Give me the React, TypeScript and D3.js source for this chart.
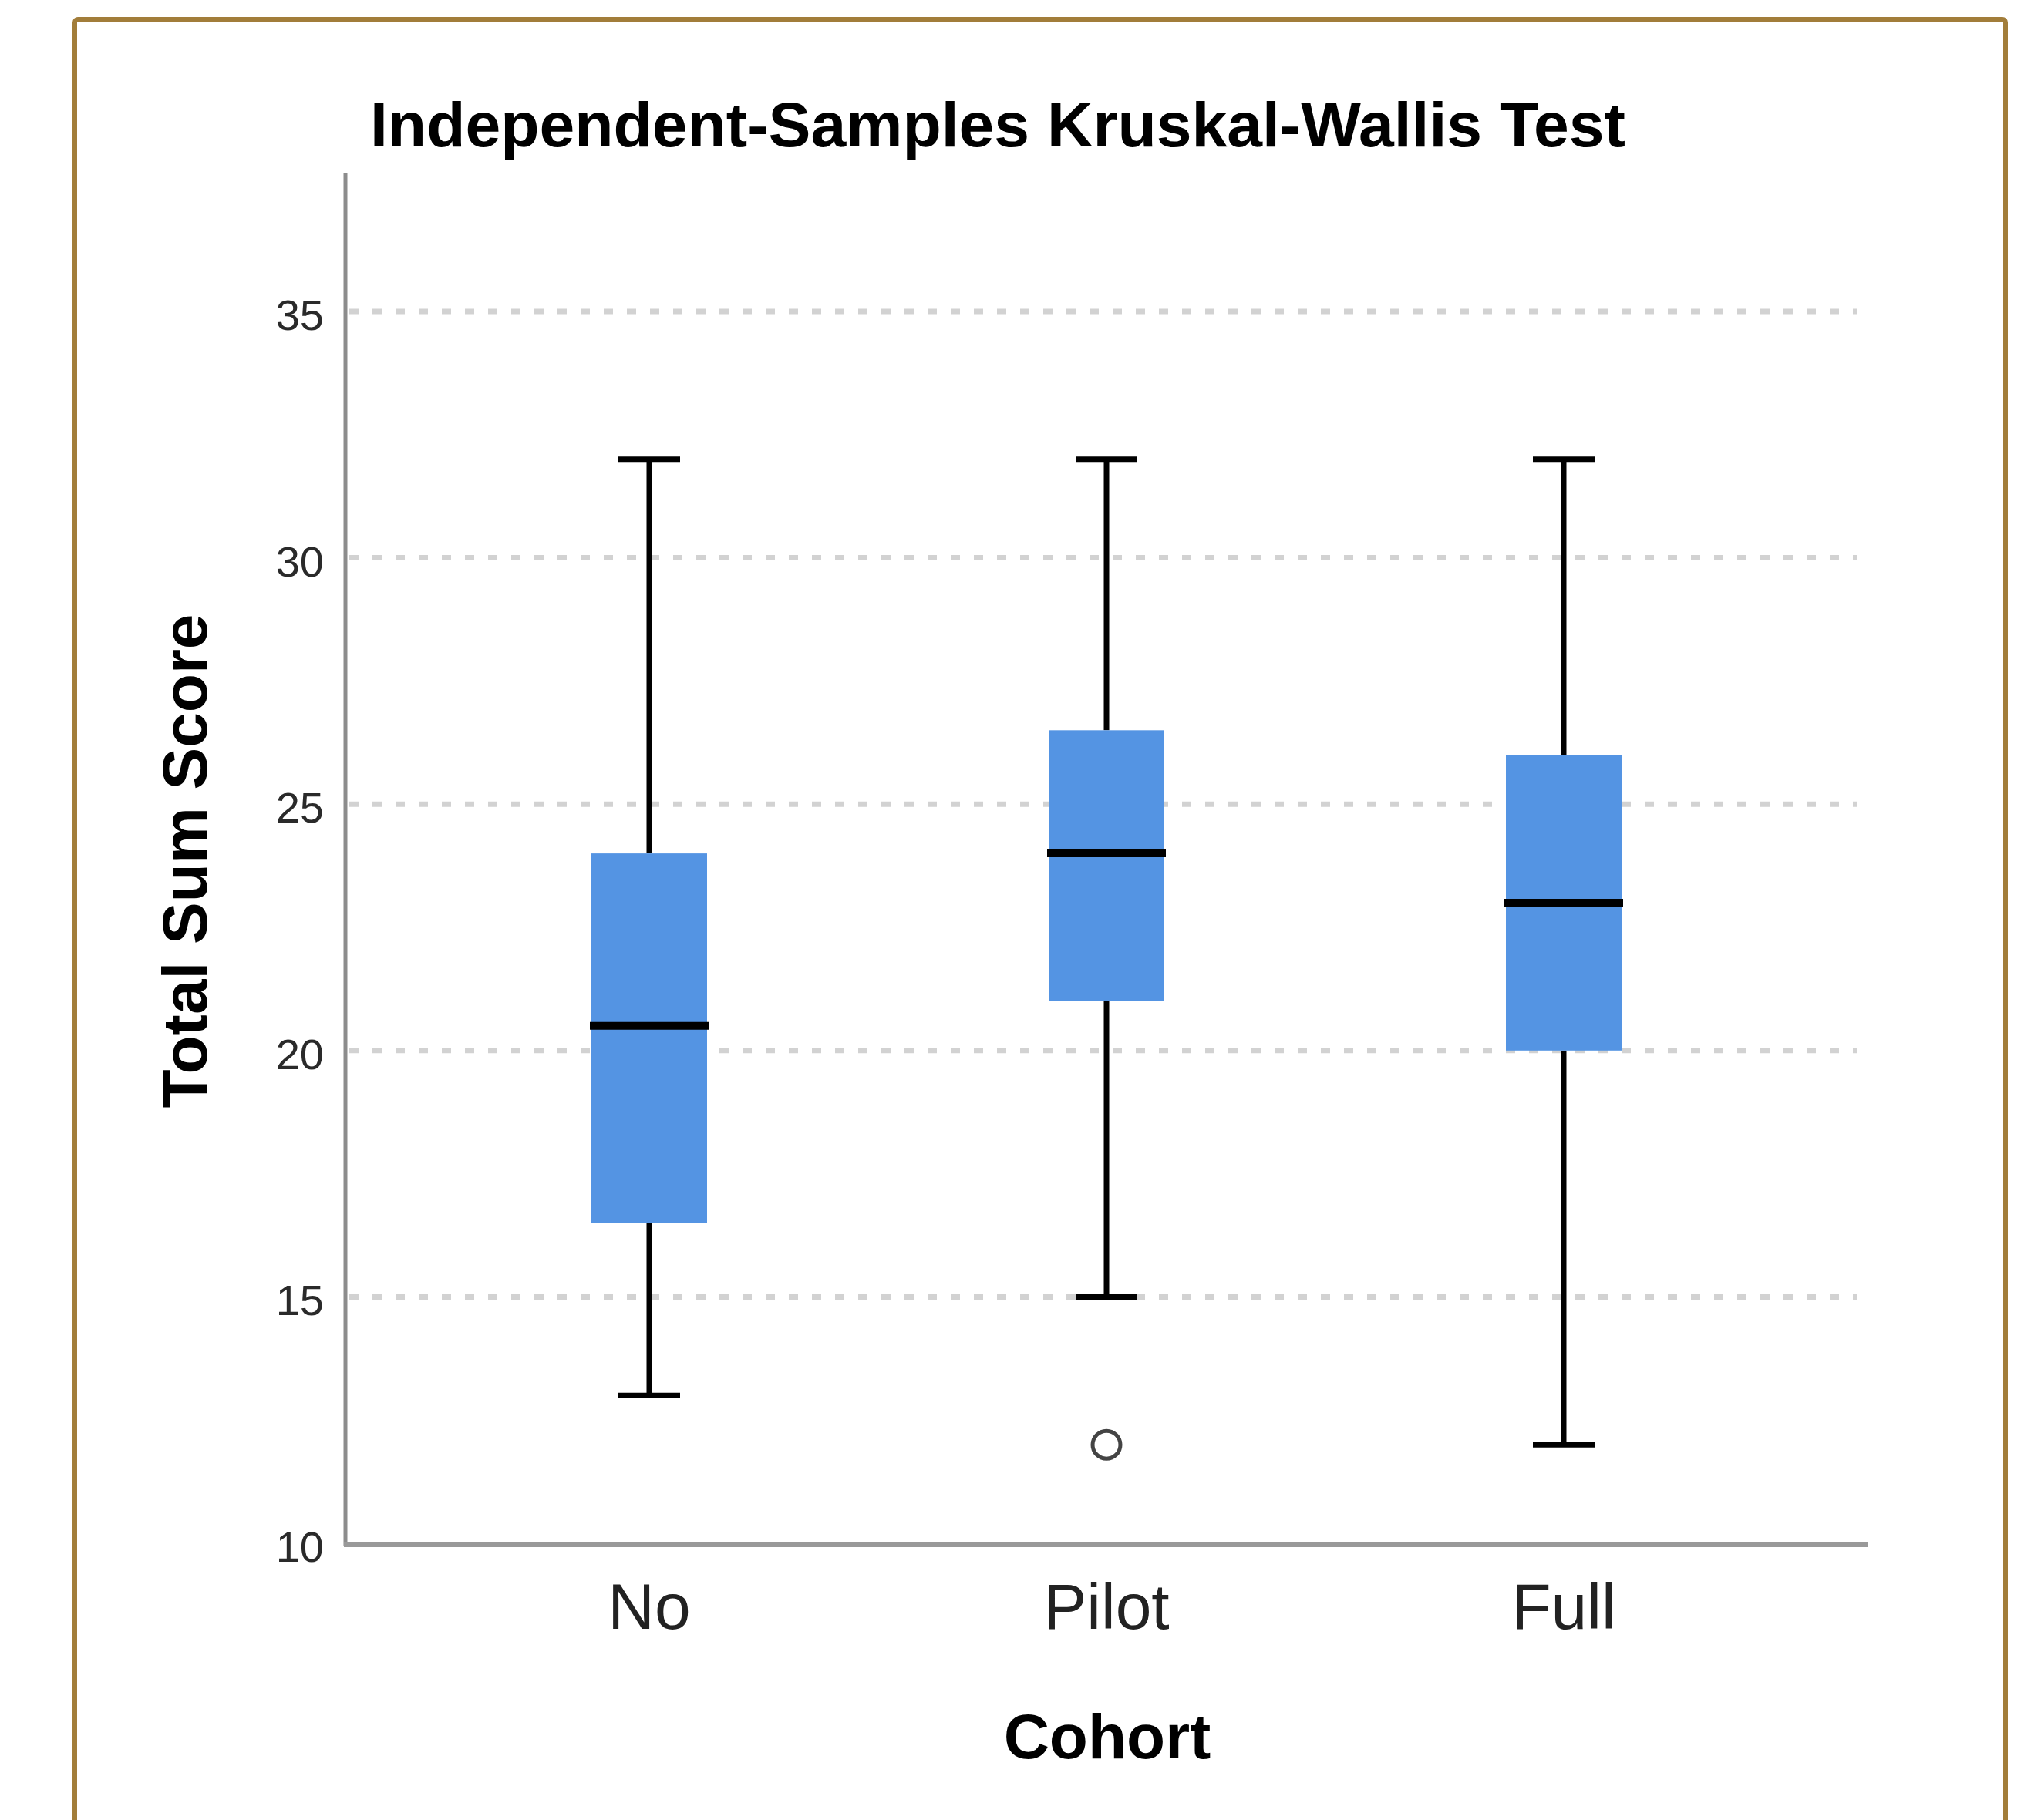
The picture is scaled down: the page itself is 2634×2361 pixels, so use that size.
import React from "react";
import * as d3 from "d3";

const cohorts = ["No", "Pilot", "Full"];
const whiskerLow = [13, 15, 12];
const q1 = [16.5, 21, 20];
const median = [20.5, 24, 23];
const q3 = [24, 26.5, 26];
const whiskerHigh = [32, 32, 32];
const outliers = [{ cohort: "Pilot", value: 12 }];
const yTicks = [10, 15, 20, 25, 30, 35];

const W = 2634;
const H = 2361;
const FONT = "'Liberation Sans', Arial, sans-serif";

export default function App() {
  // plot frame
  const left = 448;
  const right = 2422;
  const top = 225;
  const bottom = 2004;

  const y = d3.scaleLinear().domain([10, 35]).range([2002, 404]);
  const x = d3.scalePoint().domain(cohorts).range([842, 2028]);

  const boxW = 150;
  const capW = 80;

  return (
    <svg
      width={W}
      height={H}
      style={{ position: "absolute", left: 0, top: 0, display: "block", background: "#fff" }}
    >
      {/* frame around the chart */}
      <rect x={97} y={25} width={2504} height={2450} rx={4} fill="#fff" stroke="#a27d3a" strokeWidth={6} />

      <text
        x={480}
        y={190}
        fontFamily={FONT}
        fontWeight="bold"
        fontSize={82}
        fill="#000"
        textLength={1628}
        lengthAdjust="spacingAndGlyphs"
      >
        Independent-Samples Kruskal-Wallis Test
      </text>

      {/* grid */}
      {yTicks
        .filter((t) => t > 10)
        .map((t) => (
          <line
            key={"g" + t}
            x1={left + 5}
            x2={2408}
            y1={y(t)}
            y2={y(t)}
            stroke="#d2d2d2"
            strokeWidth={7}
            strokeDasharray="12 18"
          />
        ))}

      {/* whiskers */}
      {cohorts.map((c, i) => {
        const cx = x(c)!;
        return (
          <g key={"w" + c} stroke="#000" strokeWidth={7}>
            <line x1={cx} x2={cx} y1={y(whiskerHigh[i])} y2={y(q3[i])} />
            <line x1={cx} x2={cx} y1={y(q1[i])} y2={y(whiskerLow[i])} />
            <line x1={cx - capW / 2} x2={cx + capW / 2} y1={y(whiskerHigh[i])} y2={y(whiskerHigh[i])} />
            <line x1={cx - capW / 2} x2={cx + capW / 2} y1={y(whiskerLow[i])} y2={y(whiskerLow[i])} />
          </g>
        );
      })}

      {/* boxes */}
      {cohorts.map((c, i) => {
        const cx = x(c)!;
        return (
          <g key={"b" + c}>
            <rect
              x={cx - boxW / 2}
              y={y(q3[i])}
              width={boxW}
              height={y(q1[i]) - y(q3[i])}
              fill="#5494e3"
            />
            <line
              x1={cx - boxW / 2 - 2}
              x2={cx + boxW / 2 + 2}
              y1={y(median[i])}
              y2={y(median[i])}
              stroke="#000"
              strokeWidth={10}
            />
          </g>
        );
      })}

      {outliers.map((o, i) => (
        <circle
          key={"o" + i}
          cx={x(o.cohort)!}
          cy={y(o.value)}
          r={18}
          fill="none"
          stroke="#444"
          strokeWidth={5}
        />
      ))}

      {/* axes */}
      <line x1={left} x2={left} y1={top} y2={bottom + 2} stroke="#8c8c8c" strokeWidth={5} />
      <line x1={left - 2} x2={right} y1={bottom} y2={bottom} stroke="#999" strokeWidth={6} />

      {yTicks.map((t) => (
        <text
          key={"t" + t}
          x={420}
          y={y(t) + 24}
          textAnchor="end"
          fontFamily={FONT}
          fontSize={56}
          fill="#2a2a2a"
        >
          {t}
        </text>
      ))}

      {cohorts.map((c) => (
        <text
          key={"x" + c}
          x={x(c)!}
          y={2113}
          textAnchor="middle"
          fontFamily={FONT}
          fontSize={84}
          fill="#222"
        >
          {c}
        </text>
      ))}

      <text
        x={1436}
        y={2281}
        textAnchor="middle"
        fontFamily={FONT}
        fontWeight="bold"
        fontSize={82}
        fill="#000"
      >
        Cohort
      </text>

      <text
        transform={`translate(268, 1117) rotate(-90)`}
        textAnchor="middle"
        fontFamily={FONT}
        fontWeight="bold"
        fontSize={82}
        fill="#000"
      >
        Total Sum Score
      </text>
    </svg>
  );
}
